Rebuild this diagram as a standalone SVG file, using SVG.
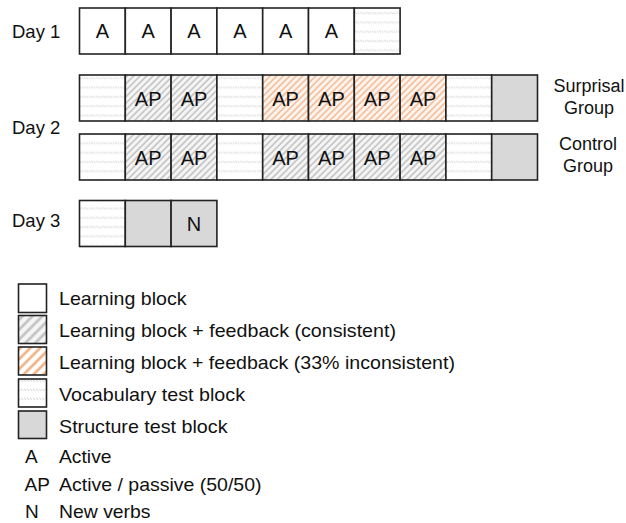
<svg xmlns="http://www.w3.org/2000/svg" width="626" height="523" viewBox="0 0 626 523">
<style>
text{font-family:"Liberation Sans",Arial,sans-serif;fill:#111}
.lbl{font-size:18.5px}
.grp{font-size:18px;text-anchor:middle}
.cl{font-size:20px;text-anchor:middle}
.lg{font-size:19px}
.cell{stroke:#222;stroke-width:1.6}
.w{fill:#fff}
.g{fill:url(#gs)}
.o{fill:url(#os)}
.v{fill:url(#vs)}
.s{fill:#d8d8d8}
.lgw{fill:#fff}
.lgg{fill:url(#lgs)}
.lgo{fill:url(#los)}
.lgv{fill:url(#lvs)}
</style>
<defs>
<pattern id="gs" patternUnits="userSpaceOnUse" width="4.6" height="4.6" patternTransform="rotate(45)">
<rect width="4.6" height="4.6" fill="#f5f5f5"/>
<line x1="1" y1="0" x2="1" y2="4.6" stroke="#bcbcbc" stroke-width="1.4"/>
</pattern>
<pattern id="os" patternUnits="userSpaceOnUse" width="4.6" height="4.6" patternTransform="rotate(45)">
<rect width="4.6" height="4.6" fill="#fdf4ee"/>
<line x1="1" y1="0" x2="1" y2="4.6" stroke="#f2b48c" stroke-width="1.4"/>
</pattern>
<pattern id="vs" patternUnits="userSpaceOnUse" width="2.4" height="9.3" y="2">
<rect width="2.4" height="9.3" fill="#fff"/>
<line x1="0" y1="0.5" x2="1.8" y2="3" stroke="#cacaca" stroke-width="0.8"/>
</pattern>
<pattern id="lgs" patternUnits="userSpaceOnUse" width="7" height="7" patternTransform="rotate(45)">
<rect width="7" height="7" fill="#f5f5f5"/>
<line x1="1.5" y1="0" x2="1.5" y2="7" stroke="#c2c2c2" stroke-width="2.6"/>
</pattern>
<pattern id="los" patternUnits="userSpaceOnUse" width="7" height="7" patternTransform="rotate(45)">
<rect width="7" height="7" fill="#fff"/>
<line x1="1.5" y1="0" x2="1.5" y2="7" stroke="#f2b080" stroke-width="2.6"/>
</pattern>
<pattern id="lvs" patternUnits="userSpaceOnUse" width="3" height="9" y="1">
<rect width="3" height="9" fill="#fff"/>
<line x1="0" y1="0.5" x2="2.2" y2="3" stroke="#c8c8c8" stroke-width="0.9"/>
</pattern>
</defs>

<g id="day1">
<text class="lbl" x="12" y="38">Day 1</text>
<g class="cell">
<rect class="w" x="79.5" y="8" width="45.8" height="46"/>
<rect class="w" x="125.3" y="8" width="45.8" height="46"/>
<rect class="w" x="171.1" y="8" width="45.8" height="46"/>
<rect class="w" x="216.9" y="8" width="45.8" height="46"/>
<rect class="w" x="262.7" y="8" width="45.8" height="46"/>
<rect class="w" x="308.5" y="8" width="45.8" height="46"/>
<rect class="v" x="354.3" y="8" width="45.8" height="46"/>
</g>
<text class="cl" x="102.4" y="38">A</text>
<text class="cl" x="148.2" y="38">A</text>
<text class="cl" x="194" y="38">A</text>
<text class="cl" x="239.8" y="38">A</text>
<text class="cl" x="285.6" y="38">A</text>
<text class="cl" x="331.4" y="38">A</text>
</g>

<text id="day2-label" class="lbl" x="12" y="133.5">Day 2</text>

<g id="day2-surprisal">
<g class="cell">
<rect class="v" x="79.5" y="75" width="45.8" height="46"/>
<rect class="g" x="125.3" y="75" width="45.8" height="46"/>
<rect class="g" x="171.1" y="75" width="45.8" height="46"/>
<rect class="v" x="216.9" y="75" width="45.8" height="46"/>
<rect class="o" x="262.7" y="75" width="45.8" height="46"/>
<rect class="o" x="308.5" y="75" width="45.8" height="46"/>
<rect class="o" x="354.3" y="75" width="45.8" height="46"/>
<rect class="o" x="400.1" y="75" width="45.8" height="46"/>
<rect class="v" x="445.9" y="75" width="45.8" height="46"/>
<rect class="s" x="491.7" y="75" width="45.8" height="46"/>
</g>
<text class="cl" x="148.2" y="105.5">AP</text>
<text class="cl" x="194" y="105.5">AP</text>
<text class="cl" x="285.6" y="105.5">AP</text>
<text class="cl" x="331.4" y="105.5">AP</text>
<text class="cl" x="377.2" y="105.5">AP</text>
<text class="cl" x="423" y="105.5">AP</text>
<text class="grp" x="589" y="92">Surprisal</text>
<text class="grp" x="589" y="113.5">Group</text>
</g>

<g id="day2-control">
<g class="cell">
<rect class="v" x="79.5" y="134" width="45.8" height="46"/>
<rect class="g" x="125.3" y="134" width="45.8" height="46"/>
<rect class="g" x="171.1" y="134" width="45.8" height="46"/>
<rect class="v" x="216.9" y="134" width="45.8" height="46"/>
<rect class="g" x="262.7" y="134" width="45.8" height="46"/>
<rect class="g" x="308.5" y="134" width="45.8" height="46"/>
<rect class="g" x="354.3" y="134" width="45.8" height="46"/>
<rect class="g" x="400.1" y="134" width="45.8" height="46"/>
<rect class="v" x="445.9" y="134" width="45.8" height="46"/>
<rect class="s" x="491.7" y="134" width="45.8" height="46"/>
</g>
<text class="cl" x="148.2" y="164.5">AP</text>
<text class="cl" x="194" y="164.5">AP</text>
<text class="cl" x="285.6" y="164.5">AP</text>
<text class="cl" x="331.4" y="164.5">AP</text>
<text class="cl" x="377.2" y="164.5">AP</text>
<text class="cl" x="423" y="164.5">AP</text>
<text class="grp" x="588" y="150">Control</text>
<text class="grp" x="588" y="172">Group</text>
</g>

<g id="day3">
<text class="lbl" x="12" y="227">Day 3</text>
<g class="cell">
<rect class="v" x="79.5" y="200.5" width="45.8" height="46"/>
<rect class="s" x="125.3" y="200.5" width="45.8" height="46"/>
<rect class="s" x="171.1" y="200.5" width="45.8" height="46"/>
</g>
<text class="cl" x="194" y="231">N</text>
</g>

<g id="legend">
<g class="cell">
<rect class="lgw" x="18.5" y="284" width="28" height="28.5"/>
<rect class="lgg" x="18.5" y="315.5" width="28" height="28"/>
<rect class="lgo" x="18.5" y="347" width="28" height="28"/>
<rect class="lgv" x="18.5" y="379" width="28" height="28"/>
<rect class="s" x="18.5" y="411" width="28" height="27.5"/>
</g>
<text class="lg" x="59" y="305" textLength="127.5" lengthAdjust="spacingAndGlyphs">Learning block</text>
<text class="lg" x="59" y="336.5" textLength="337" lengthAdjust="spacingAndGlyphs">Learning block + feedback (consistent)</text>
<text class="lg" x="59" y="368.5" textLength="396" lengthAdjust="spacingAndGlyphs">Learning block + feedback (33% inconsistent)</text>
<text class="lg" x="59" y="400.5" textLength="186" lengthAdjust="spacingAndGlyphs">Vocabulary test block</text>
<text class="lg" x="59" y="433" textLength="168.5" lengthAdjust="spacingAndGlyphs">Structure test block</text>
<text class="lg" x="25" y="463">A</text>
<text class="lg" x="59" y="463" textLength="52.5" lengthAdjust="spacingAndGlyphs">Active</text>
<text class="lg" x="24.5" y="491">AP</text>
<text class="lg" x="59" y="491" textLength="202.5" lengthAdjust="spacingAndGlyphs">Active / passive (50/50)</text>
<text class="lg" x="25" y="518">N</text>
<text class="lg" x="59" y="518" textLength="91.5" lengthAdjust="spacingAndGlyphs">New verbs</text>
</g>
</svg>
